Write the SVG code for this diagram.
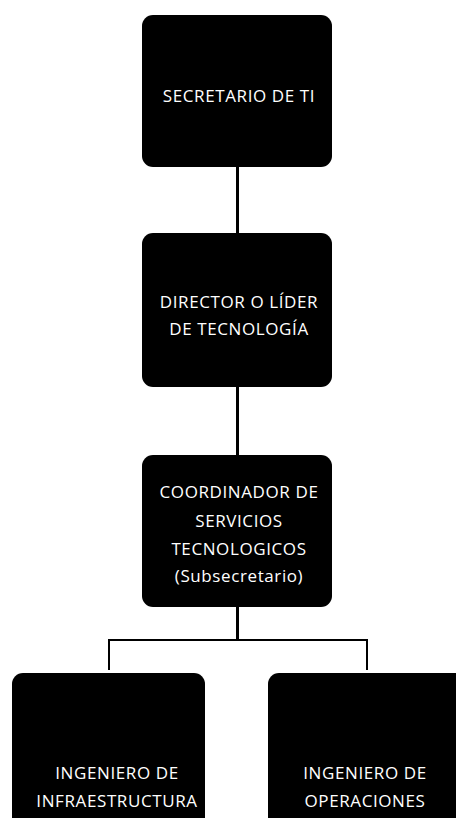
<svg xmlns="http://www.w3.org/2000/svg" width="456" height="818" viewBox="0 0 456 818">
<style>
.box{fill:#000;}
.t{fill:#fff;font-family:"Open Sans","Noto Sans",sans-serif;font-size:17px;letter-spacing:0.6px;text-anchor:middle;}
.c{stroke:#000;fill:none;}
</style>
<rect width="456" height="818" fill="#fff"/>
<g id="connectors">
<line class="c" x1="237.5" y1="167" x2="237.5" y2="233" stroke-width="3"/>
<line class="c" x1="237.5" y1="387" x2="237.5" y2="455" stroke-width="3"/>
<line class="c" x1="237.5" y1="607" x2="237.5" y2="640" stroke-width="3"/>
<polyline class="c" points="109,670 109,640 367,640 367,670" stroke-width="2"/>
</g>
<g id="n1"><rect class="box" x="142" y="15" width="190" height="152" rx="11"/>
<text class="t" x="239" y="102">SECRETARIO DE TI</text></g>
<g id="n2"><rect class="box" x="142" y="233" width="190" height="154" rx="11"/>
<text class="t" x="239" y="308">DIRECTOR O LÍDER</text>
<text class="t" x="239" y="335">DE TECNOLOGÍA</text></g>
<g id="n3"><rect class="box" x="142" y="455" width="190" height="152" rx="11"/>
<text class="t" x="239" y="498">COORDINADOR DE</text>
<text class="t" x="239" y="527">SERVICIOS</text>
<text class="t" x="239" y="555">TECNOLOGICOS</text>
<text class="t" x="239" y="582">(Subsecretario)</text></g>
<g id="n4"><rect class="box" x="12" y="673" width="193" height="160" rx="11"/>
<text class="t" x="117" y="779">INGENIERO DE</text>
<text class="t" x="117" y="807">INFRAESTRUCTURA</text></g>
<g id="n5"><rect class="box" x="268" y="673" width="200" height="160" rx="11"/>
<text class="t" x="365" y="779">INGENIERO DE</text>
<text class="t" x="365" y="807">OPERACIONES</text></g>
</svg>
